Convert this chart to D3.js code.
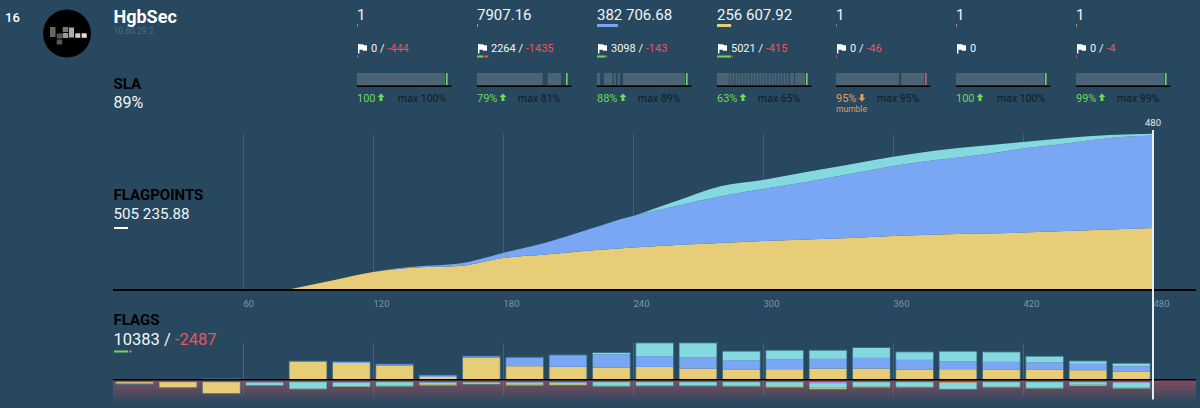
<!DOCTYPE html>
<html lang="en">
<head>
<meta charset="UTF-8">
<title>HgbSec</title>
<style>
  html, body { margin: 0; padding: 0; background: #27485e; overflow: hidden; }
  svg { display: block; font-family: Roboto, sans-serif; }
</style>
</head>
<body>
<svg width="1200" height="408" id="svg"></svg>
<script src="https://d3js.org/d3.v7.min.js"></script>
<script>
// flag points over time, one value every 20 rounds
const rounds     = [80,100,120,140,160,180,200,220,240,260,280,300,320,340,360,380,400,420,440,460,480];
const pointsYellow = [0,37251,74502,93128,99336,132448,146935,163491,175908,186255,194533,202811,209020,215228,223506,229715,233854,237993,244201,250410,256608];
const pointsBlue   = [0,0,0,4139,10348,20695,49668,88989,130379,161421,192464,215228,237993,264896,289730,308356,324912,347676,362163,378719,382707];
const pointsTeal   = [0,0,0,0,0,0,0,0,0,20695,41390,37251,41390,39321,38493,39321,37251,26904,22765,12417,7907];
const roundTicks = [60,120,180,240,300,360,420,480];

// flags per 20 round bin
const bins = d3.range(24);
const gotYellow = [0,0,0,0,382,350,297,53,466,282,269,254,267,233,204,218,233,233,212,218,212,212,197,170];
const gotBlue   = [0,0,21,0,11,32,32,42,32,191,254,276,227,240,206,206,204,225,204,170,161,148,134,112];
const gotTeal   = [0,0,0,0,0,0,0,0,0,0,0,42,282,303,191,197,184,220,170,212,212,134,64,64];
const lostViolet = [0,0,0,0,0,0,0,0,0,0,0,0,0,0,0,0,32,0,0,0,0,0,0,21];
const lostOrange = [0,0,0,0,0,0,0,0,0,0,0,0,0,0,0,0,0,0,0,25,0,0,0,0];
const lostYellow = [28,127,244,0,0,0,0,0,0,0,0,0,0,0,0,0,0,0,0,0,0,0,0,0];
const lostBlue   = [28,0,0,21,0,21,0,21,17,21,21,0,0,0,0,0,0,0,0,0,0,0,0,0];
const lostTeal   = [0,0,11,64,148,74,85,32,0,32,28,85,74,74,85,95,95,100,106,138,106,117,64,100];
const lostGreen  = [0,0,0,0,15,17,21,32,42,32,30,21,21,21,21,32,36,28,21,0,21,32,28,28];

// services
const svcX      = [357,477,597,717,836,956,1076];
const svcPoints = [1,7907.16,382706.68,256607.92,1,1,1];
const svcLabels = ["1","7907.16","382 706.68","256 607.92","1","1","1"];
const svcColors = ["#6f9080","#6fa8b8","#78a5f2","#e8cd78","#7a6fd0","#b070c0","#c08050"];
const svcGot    = [0,2264,3098,5021,0,0,0];
const svcLost   = [444,1435,143,415,46,0,4];
const svcSla    = ["100","79%","88%","63%","95%","100","99%"];
const svcMax    = ["max 100%","max 81%","max 89%","max 65%","max 95%","max 100%","max 99%"];
const svcUp     = [true,true,true,true,false,true,true];
// rounds where the service was up
const svcUptime = [
  [[0,475]],
  [[0,354],[381,453]],
  [[0,16],[38,83],[90,101],[112,124],[140,475]],
  [[0,63],[67,78],[83,94],[100,111],[116,127],[132,143],[148,159],[164,175],[181,192],[197,208],[213,224],
   [229,240],[245,256],[261,272],[278,289],[294,305],[310,321],[326,337],[342,353],[359,370],[375,386],[394,415],[421,475]],
  [[0,340],[352,475]],
  [[0,475]],
  [[0,475]]
];

const GREEN = "#6fd65c", RED = "#f0525c", ORANGE = "#e39a5c", GRID = "#3f5f75";
const YELLOW = "#e8cd78", BLUE = "#7aa7f4", TEAL = "#84d9e0", VIOLET = "#c98be0", GREENISH = "#b5cc7a", ORANGE2 = "#f0a060";

const svg = d3.select("#svg");
const label = (x, y, txt, size, fill, weight) => svg.append("text")
  .attr("x", x).attr("y", y).attr("font-size", size).attr("fill", fill)
  .attr("font-weight", weight || 400).text(txt);

const defs = svg.append("defs");
const grad = defs.append("linearGradient").attr("id", "lostBg").attr("x1", 0).attr("x2", 0).attr("y1", 0).attr("y2", 1);
grad.append("stop").attr("offset", 0).attr("stop-color", "#824c5e");
grad.append("stop").attr("offset", 1).attr("stop-color", "#27485e");

// team header
label(5, 22, "16", 13, "#ffffff", 500);
svg.append("circle").attr("cx", 67).attr("cy", 33.5).attr("r", 24).attr("fill", "#000");
const logo = [[50,27,5.5,10,"#666"],[56.7,33.5,5.5,5,"#555"],[56.7,39.5,5.5,5,"#555"],[62.7,27,5.5,5,"#777"],[62.7,33,5.5,5,"#999"],
              [69,27.5,5,10,"#aaa"],[75.3,33.3,5,4.5,"#ccc"],[81.7,33.3,5,4.5,"#ddd"]];
svg.selectAll(".logo").data(logo).enter().append("rect")
  .attr("x", d => d[0]).attr("y", d => d[1]).attr("width", d => d[2]).attr("height", d => d[3]).attr("fill", d => d[4]);
label(113.5, 23, "HgbSec", 18, "#ffffff", 700);
label(113.5, 34, "10.60.29.2", 8.5, "#4d6d82");
label(113.5, 89, "SLA", 15, "#000", 700);
label(113.5, 108, "89%", 16, "#f2f5f7");
label(113.5, 200, "FLAGPOINTS", 15, "#000", 700);
label(113.5, 219, "505 235.88", 15.2, "#f2f5f7");
svg.append("rect").attr("x", 114).attr("y", 227).attr("width", 14).attr("height", 2).attr("fill", "#fff");
label(113.5, 325, "FLAGS", 15, "#000", 700);
const total = label(113.5, 345, "10383 / ", 16.5, "#f2f5f7");
total.append("tspan").attr("fill", RED).text("-2487");
svg.append("rect").attr("x", 114).attr("y", 350.5).attr("width", 14).attr("height", 2).attr("fill", GREEN);
svg.append("rect").attr("x", 129).attr("y", 350.5).attr("width", 3).attr("height", 2).attr("fill", RED);

// service columns
const pointsW = d3.scaleLinear().domain([0, 382706.68]).range([0, 21]);
const flagsW = d3.scaleLinear().domain([0, 5021]).range([0, 14]);
const slaX = d3.scaleLinear().domain([0, 480]).range([0, 89]);
svcX.forEach((x, i) => {
  label(x, 19.5, svcLabels[i], 15, "#f2f5f7");
  svg.append("rect").attr("x", x).attr("y", 24).attr("height", 3)
    .attr("width", Math.max(1, pointsW(svcPoints[i]))).attr("fill", svcColors[i]);

  // flag icon
  svg.append("path").attr("fill", "#fff")
    .attr("d", `M${x + 1} 44h1.4v9.5h-1.4zM${x + 2.4} 44.3h3.8l.8 1h3v5.4h-3.8l-.8-1h-3z`);
  const f = label(x + 14, 52, svcGot[i], 11, "#f2f5f7");
  if (svcLost[i] > 0) {
    f.append("tspan").text(" / ");
    f.append("tspan").attr("fill", RED).text("-" + svcLost[i]);
  }
  const gw = svcGot[i] ? Math.max(1, flagsW(svcGot[i])) : 0;
  svg.append("rect").attr("x", x).attr("y", 55.5).attr("height", 2).attr("width", gw).attr("fill", GREEN);
  if (svcLost[i] > 0) {
    svg.append("rect").attr("x", x + (gw ? gw + 1 : 0)).attr("y", 55.5).attr("height", 2)
      .attr("width", Math.max(1, flagsW(svcLost[i]))).attr("fill", RED);
  }

  // sla strip
  svg.selectAll(".up" + i).data(svcUptime[i]).enter().append("rect")
    .attr("x", d => x + slaX(d[0])).attr("y", 73).attr("height", 12)
    .attr("width", d => slaX(d[1]) - slaX(d[0])).attr("fill", "#4b6475");
  const stateCol = svcUp[i] ? GREEN : RED;
  svg.append("rect").attr("x", x + 89).attr("y", 73).attr("width", 1.6).attr("height", 12).attr("fill", stateCol);
  svg.append("rect").attr("x", x).attr("y", 85.5).attr("width", 94.5).attr("height", 1.5).attr("fill", "#000");

  const txtCol = svcUp[i] ? GREEN : ORANGE;
  const pct = label(x, 102, svcSla[i], 11, txtCol);
  const ax = x + pct.node().getComputedTextLength() + 5.5;
  const arrow = svcUp[i] ? "M0 -4.5L3.5 -1H1.5V3H-1.5V-1H-3.5Z" : "M0 3.5L3.5 0H1.5V-4H-1.5V0H-3.5Z";
  svg.append("path").attr("d", arrow).attr("fill", txtCol).attr("transform", `translate(${ax},98)`);
  label(x + 41, 102, svcMax[i], 10.5, "#0f1c26");
});
label(836, 111.5, "mumble", 8.5, ORANGE);

// flag points area
const x = d3.scaleLinear().domain([0, 480]).range([113, 1153]);
const y = d3.scaleLinear().domain([0, 645700]).range([290, 134]);

const gridRounds = roundTicks.slice(0, -1);
svg.selectAll(".gridTop").data(gridRounds).enter().append("line")
  .attr("x1", d => x(d) + 0.5).attr("x2", d => x(d) + 0.5).attr("y1", 134).attr("y2", 290)
  .attr("stroke", GRID);

const pointsTable = rounds.map((r, i) => ({ round: r, yellow: pointsYellow[i], blue: pointsBlue[i], teal: pointsTeal[i] }));
const pointsStack = d3.stack().keys(["yellow", "blue", "teal"])(pointsTable);
const pointsColor = { yellow: YELLOW, blue: BLUE, teal: TEAL };
const area = d3.area().x(d => x(d.data.round)).y0(d => y(d[0])).y1(d => y(d[1])).curve(d3.curveMonotoneX);
svg.selectAll(".layer").data(pointsStack).enter().append("path")
  .attr("d", area).attr("fill", d => pointsColor[d.key]);

const axis = svg.append("g").attr("transform", "translate(0,290)")
  .call(d3.axisBottom(x).tickValues(roundTicks).tickSize(0).tickPadding(10));
axis.select(".domain").remove();
axis.selectAll("text").attr("text-anchor", "start").attr("font-size", 9.5)
  .attr("font-family", "Roboto, sans-serif").attr("fill", "#7d95a6");

svg.append("line").attr("x1", 113).attr("x2", 1196).attr("y1", 290).attr("y2", 290).attr("stroke", "#000").attr("stroke-width", 2);

// flags chart
svg.append("rect").attr("x", 113).attr("y", 380).attr("width", 1083).attr("height", 24).attr("fill", "url(#lostBg)");
svg.selectAll(".gridBottom").data(gridRounds).enter().append("line")
  .attr("x1", d => x(d) + 0.5).attr("x2", d => x(d) + 0.5).attr("y1", 343).attr("y2", 395)
  .attr("stroke", "#5a7488").attr("stroke-opacity", 0.6);

const band = d3.scaleBand().domain(bins).range([113, 1153]).paddingInner(0.125).paddingOuter(0.0625);
const gotY = d3.scaleLinear().domain([0, 1000]).range([379.5, 332.3]);
const lostY = d3.scaleLinear().domain([0, 1000]).range([381.7, 428.9]);

const gotTable = bins.map(i => ({ bin: i, yellow: gotYellow[i], blue: gotBlue[i], teal: gotTeal[i] }));
const lostTable = bins.map(i => ({ bin: i, violet: lostViolet[i], orange: lostOrange[i], yellow: lostYellow[i],
  blue: lostBlue[i], teal: lostTeal[i], green: lostGreen[i] }));
const flagColor = { yellow: YELLOW, blue: BLUE, teal: TEAL, violet: VIOLET, orange: ORANGE2, green: GREENISH };

const gotStack = d3.stack().keys(["yellow", "blue", "teal"])(gotTable);
const lostStack = d3.stack().keys(["violet", "orange", "yellow", "blue", "teal", "green"])(lostTable);

gotStack.forEach(s => {
  svg.selectAll(".got" + s.key).data(s).enter().append("rect")
    .attr("x", d => band(d.data.bin)).attr("width", band.bandwidth())
    .attr("y", d => gotY(d[1])).attr("height", d => gotY(d[0]) - gotY(d[1]))
    .attr("fill", flagColor[s.key]);
});
lostStack.forEach(s => {
  svg.selectAll(".lost" + s.key).data(s).enter().append("rect")
    .attr("x", d => band(d.data.bin)).attr("width", band.bandwidth())
    .attr("y", d => lostY(d[0])).attr("height", d => lostY(d[1]) - lostY(d[0]))
    .attr("fill", flagColor[s.key]);
});

// thin dark edge round each bar
const gotTop = gotStack[gotStack.length - 1], lostEnd = lostStack[lostStack.length - 1];
svg.selectAll(".gotEdge").data(gotTop.filter(d => d[1] > 0)).enter().append("rect")
  .attr("x", d => band(d.data.bin)).attr("width", band.bandwidth())
  .attr("y", d => gotY(d[1])).attr("height", d => gotY(0) - gotY(d[1]))
  .attr("fill", "none").attr("stroke", "#2f6480").attr("stroke-opacity", 0.8);
svg.selectAll(".lostEdge").data(lostEnd).enter().append("rect")
  .attr("x", d => band(d.data.bin)).attr("width", band.bandwidth())
  .attr("y", lostY(0)).attr("height", d => lostY(d[1]) - lostY(0))
  .attr("fill", "none").attr("stroke", "#2f6480").attr("stroke-opacity", 0.6);

svg.append("line").attr("x1", 113).attr("x2", 1196).attr("y1", 379.7).attr("y2", 379.7).attr("stroke", "#000").attr("stroke-width", 1.5);

// current round marker
svg.append("line").attr("x1", x(480)).attr("x2", x(480)).attr("y1", 130).attr("y2", 399.5).attr("stroke", "#e6ecf0").attr("stroke-width", 2);
label(x(480), 126, "480", 9.5, "#e6ecf0").attr("text-anchor", "middle");
</script>
</body>
</html>
